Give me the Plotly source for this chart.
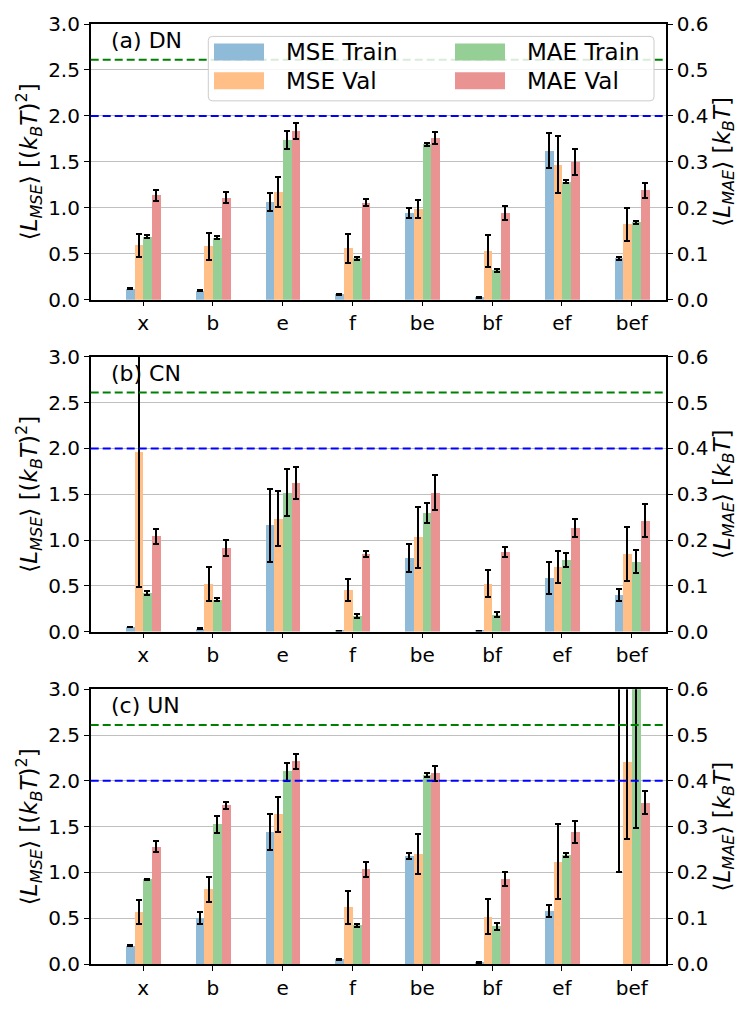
import plotly.graph_objects as go

categories = ["x", "b", "e", "f", "be", "bf", "ef", "bef"]
panels = ["(a) DN", "(b) CN", "(c) UN"]

# MSE values on left axis [(k_B T)^2]
dn_mse_train = [0.12, 0.096, 1.06, 0.06, 0.945, 0.025, 1.62, 0.45]
dn_mse_train_err = [0.008, 0.006, 0.10, 0.005, 0.055, 0.004, 0.19, 0.015]
dn_mse_val = [0.59, 0.58, 1.17, 0.56, 0.99, 0.53, 1.47, 0.82]
dn_mse_val_err = [0.13, 0.15, 0.16, 0.16, 0.10, 0.175, 0.31, 0.177]
# MAE values on right axis [k_B T]
dn_mae_train = [0.137, 0.135, 0.348, 0.09, 0.338, 0.064, 0.257, 0.168]
dn_mae_train_err = [0.003, 0.004, 0.019, 0.003, 0.004, 0.003, 0.003, 0.0035]
dn_mae_val = [0.227, 0.222, 0.367, 0.211, 0.351, 0.188, 0.299, 0.238]
dn_mae_val_err = [0.012, 0.012, 0.018, 0.008, 0.013, 0.015, 0.028, 0.016]

cn_mse_train = [0.05, 0.032, 1.16, 0.01, 0.805, 0.01, 0.585, 0.40]
cn_mse_train_err = [0.005, 0.004, 0.395, 0.002, 0.15, 0.002, 0.175, 0.068]
cn_mse_val = [1.96, 0.52, 1.234, 0.455, 1.03, 0.525, 0.71, 0.85]
cn_mse_val_err = [1.47, 0.185, 0.30, 0.123, 0.33, 0.15, 0.175, 0.295]
cn_mae_train = [0.0846, 0.07, 0.304, 0.0334, 0.259, 0.0375, 0.156, 0.153]
cn_mae_train_err = [0.005, 0.004, 0.052, 0.004, 0.021, 0.006, 0.015, 0.025]
cn_mae_val = [0.208, 0.183, 0.324, 0.17, 0.304, 0.174, 0.227, 0.242]
cn_mae_val_err = [0.017, 0.018, 0.035, 0.007, 0.038, 0.01, 0.02, 0.036]

un_mse_train = [0.20, 0.50, 1.44, 0.05, 1.18, 0.02, 0.58, 3.2]
un_mse_train_err = [0.006, 0.064, 0.193, 0.006, 0.03, 0.004, 0.07, 2.2]
un_mse_val = [0.568, 0.813, 1.633, 0.62, 1.20, 0.515, 1.115, 2.2]
un_mse_val_err = [0.133, 0.14, 0.193, 0.183, 0.22, 0.19, 0.41, 0.83]
un_mae_train = [0.1846, 0.305, 0.42, 0.084, 0.4125, 0.082, 0.238, 0.65]
un_mae_train_err = [0.002, 0.019, 0.02, 0.003, 0.005, 0.008, 0.004, 0.353]
un_mae_val = [0.256, 0.346, 0.442, 0.207, 0.416, 0.186, 0.288, 0.352]
un_mae_val_err = [0.012, 0.008, 0.017, 0.016, 0.017, 0.015, 0.024, 0.025]

# reference lines
green_ref = 2.61
blue_ref = 2.0

data = [
    (dn_mse_train, dn_mse_train_err, dn_mse_val, dn_mse_val_err,
     dn_mae_train, dn_mae_train_err, dn_mae_val, dn_mae_val_err),
    (cn_mse_train, cn_mse_train_err, cn_mse_val, cn_mse_val_err,
     cn_mae_train, cn_mae_train_err, cn_mae_val, cn_mae_val_err),
    (un_mse_train, un_mse_train_err, un_mse_val, un_mse_val_err,
     un_mae_train, un_mae_train_err, un_mae_val, un_mae_val_err),
]

series_names = ["MSE Train", "MSE Val", "MAE Train", "MAE Val"]
colors = ["#8fbbd9", "#ffbf86", "#95cf95", "#ea9393"]
offsets = [-0.25, -0.125, 0.0, 0.125]
bar_w = 0.125
# bar not rendered in the original (value off-scale, only its error bar shows)
hidden = {(2, 0, 7)}

W, H = 742, 1009
def px(x):
    return x / W
def py(y):
    return 1 - y / H

plot_left, plot_right = 90.7, 666.0
panel_tops = [12.3, 353.3, 693.7]
panel_bots = [294.7, 634.7, 975.3]

FONT = "DejaVu Sans"
TICK = 20
TITLE = 23

fig = go.Figure()
layout = dict(
    width=W, height=H, margin=dict(l=0, r=0, t=0, b=0),
    plot_bgcolor="white", paper_bgcolor="white",
    font=dict(family=FONT, size=TICK, color="black"),
    showlegend=False, bargap=0,
)

left_title = "⟨<i>L</i><sub><i>MSE</i></sub>⟩ [(<i>k</i><sub><i>B</i></sub><i>T</i>)<sup>2</sup>]"
right_title = "⟨<i>L</i><sub><i>MAE</i></sub>⟩ [<i>k</i><sub><i>B</i></sub><i>T</i>]"

shapes = []
annotations = []

for p in range(3):
    xa = "x" if p == 0 else f"x{p+1}"
    yl_n = 2 * p + 1
    yr_n = 2 * p + 2
    yl = "y" if yl_n == 1 else f"y{yl_n}"
    yr = f"y{yr_n}"
    vals = data[p]
    for s in range(4):
        v = vals[2 * s]
        e = vals[2 * s + 1]
        cols = [("rgba(0,0,0,0)" if (p, s, i) in hidden else colors[s]) for i in range(len(v))]
        fig.add_trace(go.Bar(
            x=categories, y=v, name=series_names[s],
            xaxis=xa, yaxis=(yl if s < 2 else yr),
            offset=offsets[s], width=bar_w,
            marker=dict(color=cols, line=dict(width=0)),
            error_y=dict(type="data", array=e, visible=True,
                         color="black", thickness=2, width=3),
            showlegend=False,
        ))
    dom = [py(panel_bots[p]), py(panel_tops[p])]
    xkey = "xaxis" if p == 0 else f"xaxis{p+1}"
    ylkey = "yaxis" if yl_n == 1 else f"yaxis{yl_n}"
    yrkey = f"yaxis{yr_n}"
    layout[xkey] = dict(
        domain=[px(plot_left), px(plot_right)], anchor=yl,
        type="category", categoryorder="array", categoryarray=categories,
        range=[-0.75, 7.49], showline=True, linecolor="black", linewidth=1.5,
        mirror=True, ticks="outside", ticklen=5, tickwidth=1.3, tickcolor="black",
        showgrid=False, zeroline=False, tickfont=dict(size=TICK),
    )
    layout[ylkey] = dict(
        domain=dom, anchor=xa, range=[0, 3], dtick=0.5, tick0=0, tickformat=".1f",
        showline=True, linecolor="black", linewidth=1.5, ticks="outside",
        ticklen=5, tickwidth=1.3, tickcolor="black",
        showgrid=True, gridcolor="#c0c0c0", gridwidth=1, zeroline=False,
        title=dict(text=left_title, font=dict(size=TITLE), standoff=4),
        tickfont=dict(size=TICK),
    )
    layout[yrkey] = dict(
        overlaying=yl, side="right", anchor=xa, range=[0, 0.6], dtick=0.1,
        tick0=0, tickformat=".1f",
        showline=True, linecolor="black", linewidth=1.5, ticks="outside",
        ticklen=5, tickwidth=1.3, tickcolor="black",
        showgrid=False, zeroline=False,
        title=dict(text=right_title, font=dict(size=TITLE), standoff=4),
        tickfont=dict(size=TICK),
    )
    for yv, c in [(green_ref, "green"), (blue_ref, "blue")]:
        shapes.append(dict(
            type="line", xref=f"{xa} domain", yref=yl, x0=0, x1=1, y0=yv, y1=yv,
            line=dict(color=c, width=2, dash="8px,4px"), layer="above",
        ))
    annotations.append(dict(
        text=panels[p], xref="paper", yref="paper",
        x=px(109), y=py(panel_tops[p] + 17), xanchor="left", yanchor="middle",
        showarrow=False, font=dict(size=22, family=FONT),
    ))

# legend box (panel a)
lx0, lx1, ly0, ly1 = 208.3, 654.0, 25.0, 91.0
r = 4
path = (f"M {px(lx0 + r)},{py(ly0)} L {px(lx1 - r)},{py(ly0)} "
        f"Q {px(lx1)},{py(ly0)} {px(lx1)},{py(ly0 + r)} "
        f"L {px(lx1)},{py(ly1 - r)} Q {px(lx1)},{py(ly1)} {px(lx1 - r)},{py(ly1)} "
        f"L {px(lx0 + r)},{py(ly1)} Q {px(lx0)},{py(ly1)} {px(lx0)},{py(ly1 - r)} "
        f"L {px(lx0)},{py(ly0 + r)} Q {px(lx0)},{py(ly0)} {px(lx0 + r)},{py(ly0)} Z")
shapes.append(dict(type="path", xref="paper", yref="paper", path=path,
                   fillcolor="rgba(255,255,255,0.85)",
                   line=dict(color="#cccccc", width=1), layer="above"))
leg_pos = [(214, 32.3), (214, 61.7), (455, 32.3), (455, 61.7)]
for s, (lx, ly) in enumerate(leg_pos):
    shapes.append(dict(type="rect", xref="paper", yref="paper",
                       x0=px(lx), x1=px(lx + 50), y0=py(ly + 17.4), y1=py(ly),
                       fillcolor=colors[s], line=dict(width=0), layer="above"))
    annotations.append(dict(
        text=series_names[s], xref="paper", yref="paper",
        x=px(lx + 70), y=py(ly + 8.7), xanchor="left", yanchor="middle",
        showarrow=False, font=dict(size=23, family=FONT),
    ))

layout["shapes"] = shapes
layout["annotations"] = annotations
fig.update_layout(**layout)
fig.write_html("out.html")
